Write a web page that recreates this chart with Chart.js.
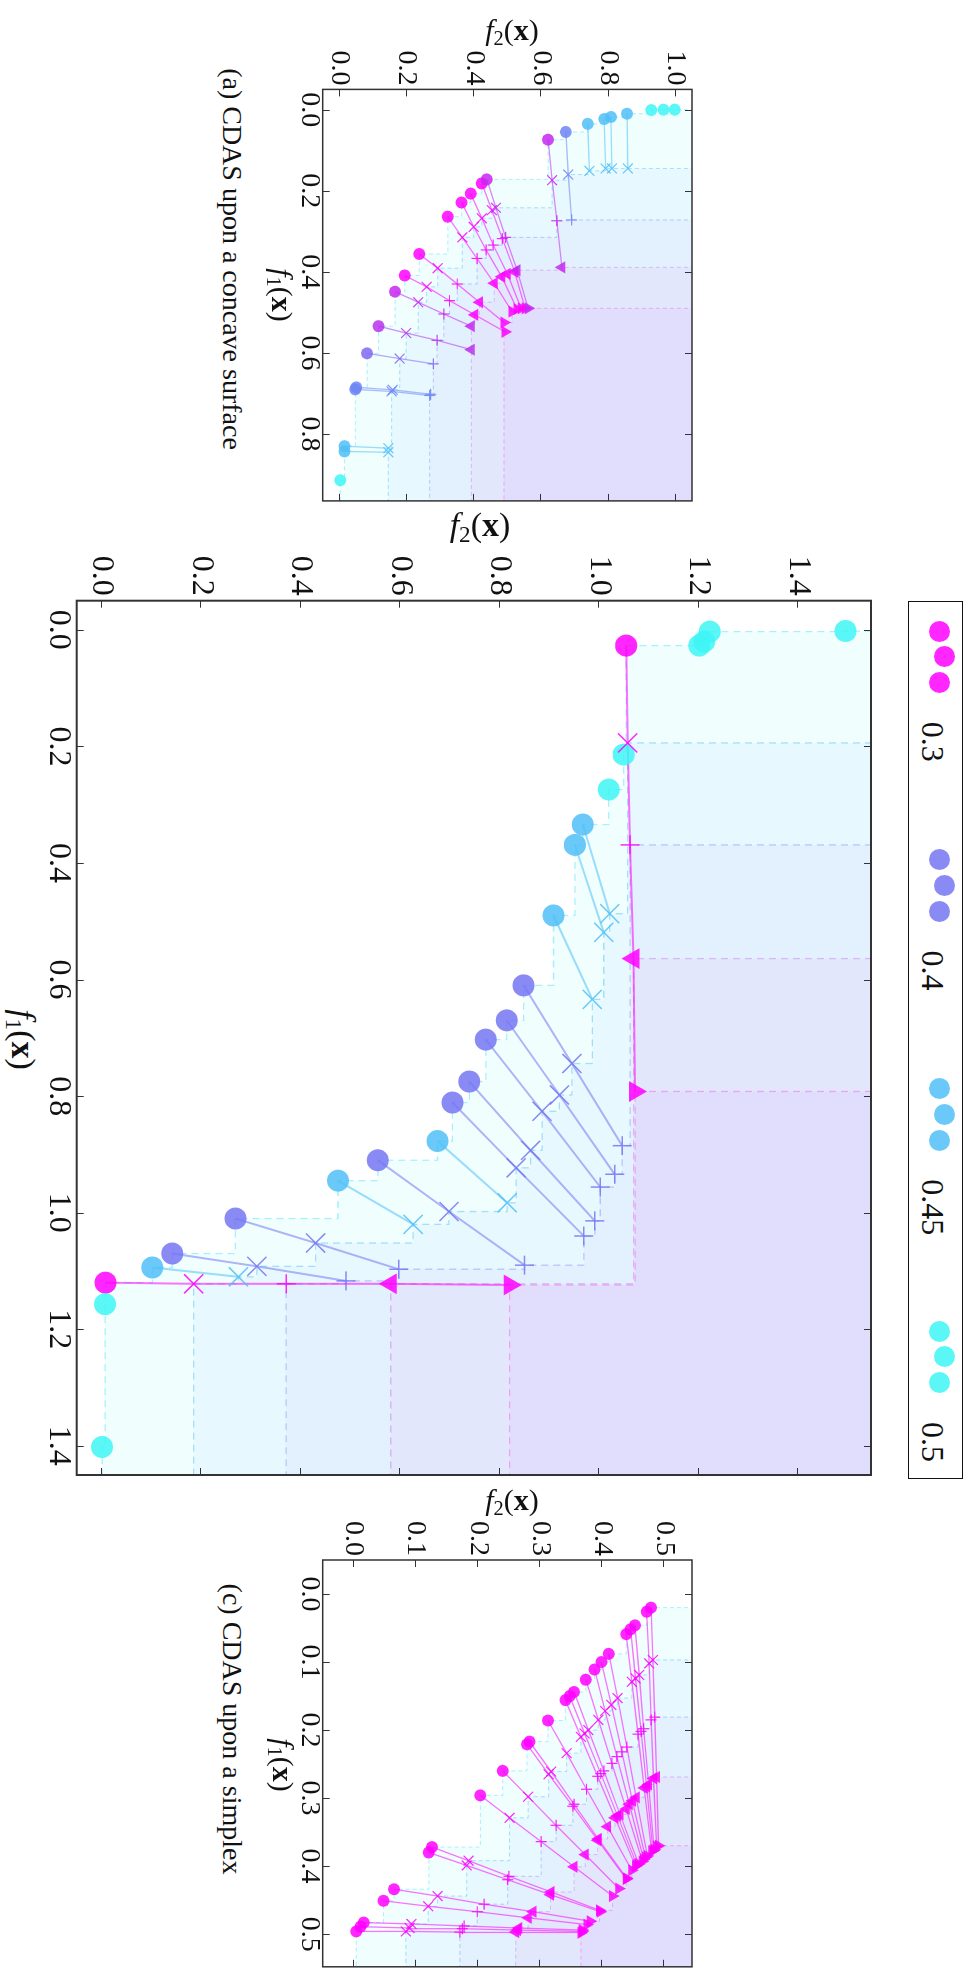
<!DOCTYPE html>
<html>
<head>
<meta charset="utf-8">
<script src="https://cdn.jsdelivr.net/npm/chart.js@4.4.1/dist/chart.umd.min.js"></script>
<style>
html, body { margin: 0; padding: 0; background: #fff; }
body { width: 972px; height: 1975px; overflow: hidden; position: relative; }
#fig {
    position: absolute; left: 0; top: 0; width: 1975px; height: 972px;
    transform-origin: 0 0; transform: translate(972px, 0) rotate(90deg);
    font-family: "Liberation Serif", "DejaVu Serif", serif; color: #111;
}
#fig canvas { position: absolute; }
.t { position: absolute; white-space: nowrap; line-height: 1; transform: translate(-50%, -50%); }
.t.rot { transform: translate(-50%, -50%) rotate(-90deg); }
.t i { font-style: italic; }
.t sub { font-size: 0.68em; vertical-align: -0.25em; }
#legend {
    position: absolute; left: 600.7px; top: 8.7px; width: 878.3px; height: 55.6px;
    border: 1.5px solid #111; box-sizing: border-box;
    display: flex; justify-content: space-between; padding: 0 14px;
}
.entry { position: relative; height: 100%; }
.dot { position: absolute; width: 21px; height: 21px; border-radius: 50%; }
.entry span { position: absolute; font-size: 32px; line-height: 1; top: 13px; white-space: nowrap; }
</style>
</head>
<body>
<div id="fig">
    <canvas id="chartA" width="475" height="418" style="left:40px;top:262px"></canvas>
    <canvas id="chartB" width="940" height="850" style="left:550px;top:80px"></canvas>
    <canvas id="chartC" width="465" height="418" style="left:1510px;top:262px"></canvas>
    <div id="legend"></div>

    <div class="t rot" style="left:31.5px;top:460px;font-size:30px"><i>f</i><sub>2</sub>(<b>x</b>)</div>
    <div class="t" style="left:295px;top:692px;font-size:30px"><i>f</i><sub>1</sub>(<b>x</b>)</div>
    <div class="t" style="left:259px;top:740px;font-size:28px">(a) CDAS upon a concave surface</div>

    <div class="t rot" style="left:527px;top:492px;font-size:34px"><i>f</i><sub>2</sub>(<b>x</b>)</div>
    <div class="t" style="left:1039.5px;top:951px;font-size:34px"><i>f</i><sub>1</sub>(<b>x</b>)</div>

    <div class="t rot" style="left:1502px;top:460px;font-size:30px"><i>f</i><sub>2</sub>(<b>x</b>)</div>
    <div class="t" style="left:1765px;top:691px;font-size:30px"><i>f</i><sub>1</sub>(<b>x</b>)</div>
    <div class="t" style="left:1729px;top:740px;font-size:28px">(c) CDAS upon a simplex</div>
</div>
<script>
// Each index is one solution: where it starts (o) and where it moves to (x, +, v, ^).
// Points are [f1, f2]; a missing stage is null or simply absent.

// (a) concave surface
const aLevel = [0.3, 0.3, 0.3, 0.3, 0.34, 0.3, 0.3, 0.34, 0.35, 0.39, 0.41, 0.41, 0.45, 0.45, 0.5,
                0.34, 0.41, 0.45, 0.45, 0.45, 0.45, 0.5, 0.5, 0.5];
const aCircle = [[0.264, 0.322], [0.229, 0.363], [0.207, 0.390], [0.182, 0.423], [0.172, 0.438],
                 [0.356, 0.237], [0.409, 0.194], [0.449, 0.165], [0.534, 0.116], [0.601, 0.082],
                 [0.685, 0.050], [0.690, 0.047], [0.830, 0.015], [0.843, 0.015], [0.914, 0.002],
                 [0.074, 0.620], [0.055, 0.673], [0.035, 0.738], [0.023, 0.787], [0.018, 0.807],
                 [0.010, 0.855], [0.001, 0.927], [0.000, 0.963], [0.000, 0.997]];
const aCross = [[0.315, 0.365], [0.289, 0.399], [0.268, 0.423], [0.248, 0.453], [0.242, 0.465],
                [0.391, 0.292], [0.437, 0.259], [0.475, 0.234], [0.551, 0.198], [0.614, 0.179],
                [0.691, 0.158], [0.695, 0.155], [0.835, 0.145], [0.845, 0.145], null,
                [0.174, 0.632], [0.160, 0.680], [0.151, 0.743], [0.145, 0.791], [0.145, 0.810],
                [0.145, 0.857]];
const aPlus = [[0.367, 0.409], [0.346, 0.436], [0.334, 0.457], [0.318, 0.484], [0.315, 0.494],
               [0.430, 0.350], [0.471, 0.327], [0.504, 0.310], [0.569, 0.290], [0.627, 0.279],
               [0.702, 0.271], [0.705, 0.268], null, null, null,
               [0.274, 0.646], [0.272, 0.690]];
const aDown = [[0.428, 0.460], [0.412, 0.482], [0.405, 0.499], [0.400, 0.521], [0.396, 0.528],
               [0.475, 0.416], [0.506, 0.402], [0.534, 0.392], [0.592, 0.392], null,
               null, null, null, null, null,
               [0.389, 0.661]];
const aUp = [[0.498, 0.513], [0.492, 0.528], [0.490, 0.540], [0.490, 0.552], [0.490, 0.561],
             [0.525, 0.489], [0.548, 0.492]];

// (b) main panel
const bLevel = [0.3, 0.3, 0.4, 0.4, 0.4, 0.4, 0.4, 0.4, 0.4, 0.4,
                0.45, 0.45, 0.45, 0.45, 0.45, 0.45, 0.5, 0.5, 0.5, 0.5, 0.5, 0.5, 0.5, 0.5];
const bCircle = [[0.027, 1.054], [1.120, 0.008], [0.610, 0.848], [0.670, 0.814], [0.703, 0.772],
                 [0.775, 0.739], [0.811, 0.705], [0.910, 0.555], [1.010, 0.269], [1.070, 0.142],
                 [0.334, 0.967], [0.369, 0.951], [0.490, 0.908], [0.877, 0.675], [0.945, 0.475],
                 [1.094, 0.102], [0.002, 1.495], [0.003, 1.222], [0.020, 1.211], [0.027, 1.201],
                 [0.214, 1.049], [0.274, 1.019], [1.157, 0.007], [1.402, 0.001]];
const bCross = [[0.194, 1.057], [1.122, 0.185], [0.744, 0.945], [0.798, 0.920], [0.826, 0.885],
                [0.893, 0.862], [0.923, 0.833], [0.998, 0.698], [1.052, 0.430], [1.092, 0.312],
                [0.487, 1.021], [0.519, 1.009], [0.634, 0.986], [0.983, 0.815], [1.020, 0.626],
                [1.110, 0.275]];
const bPlus = [[0.369, 1.062], [1.122, 0.371], [0.885, 1.046], [0.934, 1.031], [0.956, 1.002],
               [1.014, 0.991], [1.040, 0.969], [1.090, 0.850], [1.097, 0.597], [1.117, 0.491]];
const bDown = [[0.564, 1.069], [1.122, 0.581]];
const bUp = [[0.792, 1.072], [1.124, 0.820]];

// (c) simplex
const cLevel = [0.3, 0.3, 0.3, 0.3, 0.3, 0.3, 0.3, 0.3, 0.3, 0.3, 0.3, 0.3,
                0.3, 0.3, 0.3, 0.3, 0.3, 0.3, 0.3, 0.3, 0.3, 0.3, 0.3, 0.3];
const cCircle = [[0.020, 0.479], [0.026, 0.472], [0.046, 0.453], [0.052, 0.446], [0.059, 0.439],
                 [0.088, 0.411], [0.100, 0.399], [0.111, 0.388], [0.126, 0.374], [0.144, 0.355],
                 [0.150, 0.348], [0.156, 0.341], [0.186, 0.313], [0.217, 0.283], [0.221, 0.279],
                 [0.260, 0.240], [0.296, 0.204], [0.372, 0.126], [0.380, 0.121], [0.434, 0.065],
                 [0.451, 0.048], [0.483, 0.016], [0.489, 0.011], [0.496, 0.004]];
const cCross = [[0.097, 0.482], [0.102, 0.476], [0.119, 0.460], [0.124, 0.454], [0.129, 0.448],
                [0.153, 0.425], [0.163, 0.415], [0.172, 0.405], [0.185, 0.394], [0.200, 0.378],
                [0.205, 0.372], [0.210, 0.366], [0.234, 0.343], [0.261, 0.318], [0.265, 0.314],
                [0.298, 0.281], [0.329, 0.251], [0.392, 0.185], [0.399, 0.182], [0.444, 0.135],
                [0.459, 0.120], [0.485, 0.093], [0.491, 0.090], [0.496, 0.084]];
const cPlus = [[0.181, 0.485], [0.185, 0.479], [0.198, 0.467], [0.202, 0.463], [0.206, 0.458],
               [0.225, 0.440], [0.232, 0.432], [0.239, 0.424], [0.249, 0.416], [0.260, 0.403],
               [0.264, 0.398], [0.268, 0.393], [0.287, 0.375], [0.309, 0.355], [0.312, 0.353],
               [0.340, 0.326], [0.364, 0.302], [0.415, 0.250], [0.420, 0.248], [0.456, 0.210],
               [0.467, 0.199], [0.488, 0.178], [0.492, 0.175], [0.497, 0.171]];
const cDown = [[0.269, 0.488], [0.271, 0.483], [0.280, 0.475], [0.283, 0.472], [0.285, 0.468],
               [0.299, 0.455], [0.304, 0.449], [0.309, 0.444], [0.316, 0.439], [0.324, 0.429],
               [0.326, 0.425], [0.329, 0.421], [0.342, 0.409], [0.360, 0.394], [0.362, 0.393],
               [0.383, 0.373], [0.401, 0.355], [0.438, 0.318], [0.442, 0.317], [0.467, 0.289],
               [0.476, 0.281], [0.491, 0.266], [0.494, 0.264], [0.497, 0.261]];
const cUp = [[0.370, 0.491], [0.371, 0.488], [0.376, 0.484], [0.377, 0.482], [0.378, 0.480],
             [0.385, 0.473], [0.387, 0.470], [0.390, 0.467], [0.393, 0.465], [0.397, 0.459],
             [0.398, 0.456], [0.400, 0.454], [0.406, 0.448], [0.418, 0.440], [0.419, 0.439],
             [0.433, 0.427], [0.444, 0.417], [0.465, 0.396], [0.467, 0.397], [0.481, 0.381],
             [0.486, 0.376], [0.494, 0.368], [0.496, 0.368], [0.498, 0.366]];

// axes
const aTicksF1 = [0.0, 0.2, 0.4, 0.6, 0.8];
const aTicksF2 = [0.0, 0.2, 0.4, 0.6, 0.8, 1.0];
const bTicksF1 = [0.0, 0.2, 0.4, 0.6, 0.8, 1.0, 1.2, 1.4];
const bTicksF2 = [0.0, 0.2, 0.4, 0.6, 0.8, 1.0, 1.2, 1.4];
const cTicksF1 = [0.0, 0.1, 0.2, 0.3, 0.4, 0.5];
const cTicksF2 = [0.0, 0.1, 0.2, 0.3, 0.4, 0.5];

// legend
const legendLevels = [0.3, 0.4, 0.45, 0.5];
const legendLabels = ['0.3', '0.4', '0.45', '0.5'];

const FONT = "'Liberation Serif', 'DejaVu Serif', serif";

// colour for a level value (magenta -> cyan)
const colourStops = [[0.3, [255, 0, 255]], [0.35, [184, 49, 237]], [0.4, [118, 118, 243]],
                     [0.45, [80, 192, 247]], [0.5, [62, 246, 246]]];
function levelColour(v, alpha) {
    let i = 0;
    while (i < colourStops.length - 2 && v > colourStops[i + 1][0]) i++;
    const [v0, c0] = colourStops[i], [v1, c1] = colourStops[i + 1];
    const t = Math.min(1, Math.max(0, (v - v0) / (v1 - v0)));
    const c = c0.map((ch, k) => Math.round(ch + (c1[k] - ch) * t));
    return `rgba(${c[0]},${c[1]},${c[2]},${alpha})`;
}

// one entry per stage: marker, dominated-region fill, dashed edge
const stageStyles = [
    { marker: 'circle', rot: 0, fill: '#F0FEFE', edge: 'rgba(100,230,250,0.55)' },
    { marker: 'crossRot', rot: 0, fill: '#E7F8FE', edge: 'rgba(100,200,245,0.55)' },
    { marker: 'cross', rot: 0, fill: '#E2F1FD', edge: 'rgba(150,160,245,0.55)' },
    { marker: 'triangle', rot: 180, fill: '#E2E7FC', edge: 'rgba(205,150,240,0.6)' },
    { marker: 'triangle', rot: 0, fill: '#E1DEFD', edge: 'rgba(245,120,240,0.6)' }
];

// staircase (attainment surface) of a point set, closed to the far corner
function staircase(points, xEnd, yEnd) {
    const pts = points.filter(Boolean).slice().sort((p, q) => p[0] - q[0] || p[1] - q[1]);
    const keep = [];
    let best = Infinity;
    pts.forEach(p => { if (p[1] < best) { keep.push(p); best = p[1]; } });
    const out = [{ x: keep[0][0], y: yEnd }];
    keep.forEach(p => out.push({ x: p[0], y: p[1] }));
    out.push({ x: xEnd, y: keep[keep.length - 1][1] });
    return out;
}

// inward ticks on all four sides plus the frame
const frameTicks = {
    id: 'frameTicks',
    afterDraw(chart, args, opts) {
        const { ctx, chartArea: a, scales: { x, y } } = chart;
        const L = 7;
        ctx.save();
        ctx.strokeStyle = '#333';
        ctx.lineWidth = 1;
        ctx.beginPath();
        x.ticks.forEach(t => {
            const px = Math.round(x.getPixelForValue(t.value)) + 0.5;
            ctx.moveTo(px, a.bottom); ctx.lineTo(px, a.bottom - L);
            ctx.moveTo(px, a.top); ctx.lineTo(px, a.top + L);
        });
        y.ticks.forEach(t => {
            const py = Math.round(y.getPixelForValue(t.value)) + 0.5;
            ctx.moveTo(a.left, py); ctx.lineTo(a.left + L, py);
            ctx.moveTo(a.right, py); ctx.lineTo(a.right - L, py);
        });
        ctx.stroke();
        ctx.lineWidth = opts.frame;
        ctx.strokeStyle = '#333';
        ctx.strokeRect(a.left, a.top, a.width, a.height);
        ctx.restore();
    }
};

function makePanel(id, level, stages, ax, look) {
    const datasets = [];
    const n = level.length;

    stages.forEach((pts, s) => {
        datasets.push({
            data: staircase(pts, ax.f1[1] + 0.05, ax.f2[1] + 0.05),
            stepped: true,
            fill: 'end',
            backgroundColor: stageStyles[s].fill,
            borderColor: stageStyles[s].edge,
            borderWidth: look.dashW,
            borderDash: look.dash,
            pointRadius: 0,
            order: 40 - s
        });
    });

    for (let i = 0; i < n; i++) {
        const path = stages.map(p => p[i]).filter(Boolean).map(p => ({ x: p[0], y: p[1] }));
        if (path.length < 2) continue;
        datasets.push({
            data: path,
            borderColor: levelColour(level[i], 0.55),
            borderWidth: look.pathW,
            pointRadius: 0,
            fill: false,
            order: 20
        });
    }

    stages.forEach((pts, s) => {
        const data = [], colours = [];
        for (let i = 0; i < n; i++) {
            if (!pts[i]) continue;
            data.push({ x: pts[i][0], y: pts[i][1] });
            colours.push(levelColour(level[i], 0.85));
        }
        const isLine = s === 1 || s === 2;
        datasets.push({
            data,
            showLine: false,
            pointStyle: stageStyles[s].marker,
            rotation: stageStyles[s].rot,
            pointRotation: stageStyles[s].rot,
            pointRadius: look.r[s],
            pointBackgroundColor: colours,
            pointBorderColor: colours,
            pointBorderWidth: isLine ? look.markW : 0,
            order: 10 - s
        });
    });

    const tickFont = { family: FONT, size: look.font, lineHeight: 1 };
    return new Chart(document.getElementById(id), {
        type: 'line',
        data: { datasets },
        options: {
            responsive: false,
            animation: false,
            events: [],
            layout: { padding: { left: 0, top: look.padTop, right: look.padRight, bottom: 0 } },
            plugins: {
                legend: { display: false },
                tooltip: { enabled: false },
                frameTicks: { frame: look.frame }
            },
            scales: {
                x: {
                    type: 'linear', min: ax.f1[0], max: ax.f1[1],
                    grid: { display: false, drawTicks: false },
                    border: { display: false },
                    afterBuildTicks: s => { s.ticks = ax.t1.map(v => ({ value: v })); },
                    afterFit: s => { s.height = look.xh; },
                    ticks: { font: tickFont, color: '#111', padding: look.xPad, maxRotation: 0, autoSkip: false,
                             callback: v => v.toFixed(1) }
                },
                y: {
                    type: 'linear', min: ax.f2[0], max: ax.f2[1],
                    grid: { display: false, drawTicks: false },
                    border: { display: false },
                    afterBuildTicks: s => { s.ticks = ax.t2.map(v => ({ value: v })); },
                    afterFit: s => { s.width = look.yw; },
                    ticks: { font: tickFont, color: '#111', padding: look.yPad, autoSkip: false,
                             callback: v => v.toFixed(1) }
                }
            }
        },
        plugins: [frameTicks]
    });
}

const smallLook = { r: [6, 7, 5.5, 7, 7], markW: 1.2, pathW: 1.3, dashW: 1, dash: [4, 3], frame: 1.5,
                    font: 28, xPad: -1, yPad: 4, padTop: 9.3, xh: 30.7 };

makePanel('chartA', aLevel, [aCircle, aCross, aPlus, aDown, aUp],
    { f1: [-0.05, 0.965], f2: [-0.05, 1.048], t1: aTicksF1, t2: aTicksF2 },
    Object.assign({}, smallLook, { yw: 49.4, padRight: 14.1 }));

makePanel('chartB', bLevel, [bCircle, bCross, bPlus, bDown, bUp],
    { f1: [-0.05, 1.45], f2: [-0.05, 1.546], t1: bTicksF1, t2: bTicksF2 },
    { r: [11, 13.5, 9.5, 12, 12], markW: 1.5, pathW: 2, dashW: 1.3, dash: [7, 5], frame: 2,
      font: 32, xPad: 2, yPad: 5, padTop: 9.3, padRight: 11, xh: 34.7, yw: 50.7 });

makePanel('chartC', cLevel, [cCircle, cCross, cPlus, cDown, cUp],
    { f1: [-0.05, 0.548], f2: [-0.05, 0.545], t1: cTicksF1, t2: cTicksF2 },
    Object.assign({}, smallLook, { yw: 50, padRight: 4 }));

// legend: three scatter dots and a label per level
const legendBox = document.getElementById('legend');
legendLevels.forEach((v, k) => {
    const entry = document.createElement('div');
    entry.className = 'entry';
    entry.style.width = (106 + legendLabels[k].length * 14) + 'px';
    [[15.4, 22.8], [40.9, 17.8], [66.9, 22.8]].forEach(([cx, cy]) => {
        const d = document.createElement('div');
        d.className = 'dot';
        d.style.left = (cx - 10.5) + 'px';
        d.style.top = (cy - 10.5) + 'px';
        d.style.background = levelColour(v, 0.85);
        entry.appendChild(d);
    });
    const label = document.createElement('span');
    label.textContent = legendLabels[k];
    label.style.left = '106px';
    entry.appendChild(label);
    legendBox.appendChild(entry);
});
</script>
</body>
</html>
